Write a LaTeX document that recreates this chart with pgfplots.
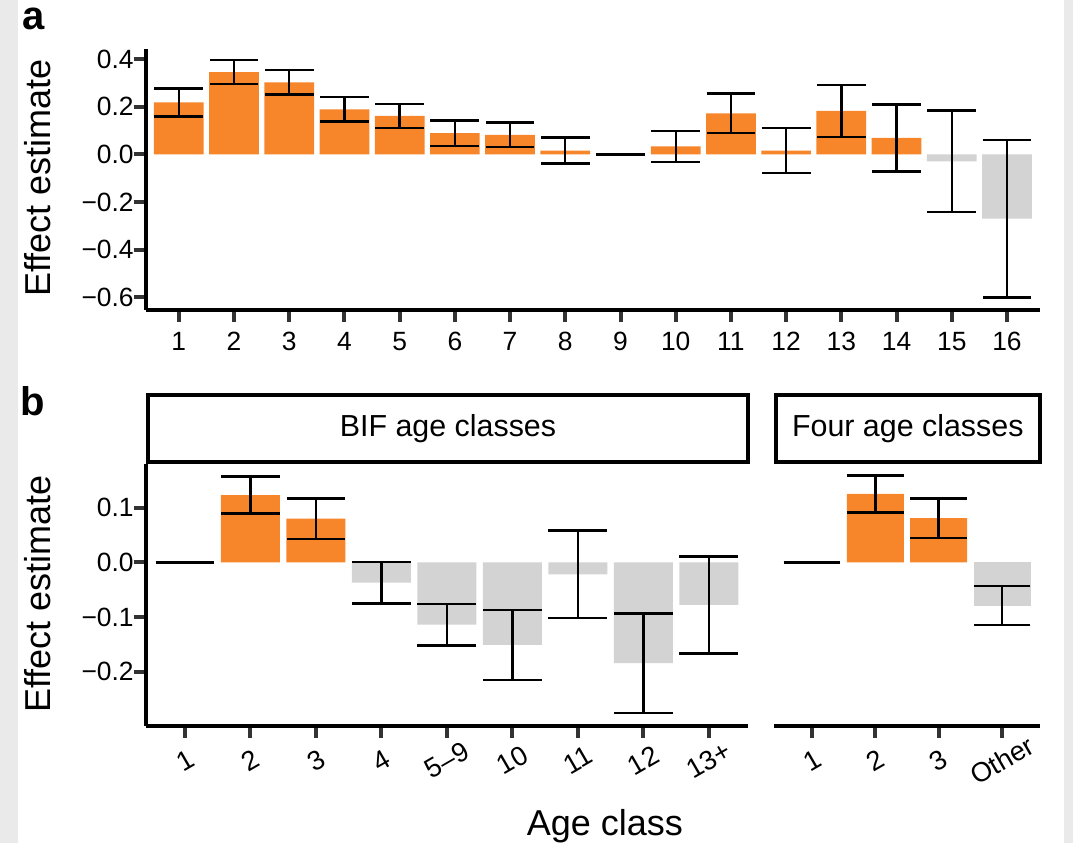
\documentclass[border=0pt]{standalone}
\usepackage{fontspec}
\setmainfont{Liberation Sans}
\usepackage{pgfplots}
\usepackage{pgfplotstable}
\pgfplotsset{compat=1.18}

\definecolor{barorange}{RGB}{247,134,43}
\definecolor{bargrey}{RGB}{211,211,211}
\definecolor{tickgrey}{RGB}{51,51,51}
\definecolor{edgegrey}{RGB}{234,234,234}

% panel a: x, estimate, half CI
\pgfplotstableread{
x y e
1 0.218 0.059
2 0.345 0.051
3 0.302 0.051
4 0.189 0.051
5 0.161 0.051
6 0.089 0.053
7 0.082 0.052
8 0.016 0.055
9 0 0
10 0.033 0.065
11 0.172 0.083
12 0.016 0.094
13 0.182 0.109
14 0.069 0.141
}\aPos
\pgfplotstableread{
x y e
15 -0.029 0.213
16 -0.270 0.331
}\aNeg
% panel b, BIF classes
\pgfplotstableread{
x y e
1 0 0
2 0.123 0.034
3 0.080 0.037
}\bPos
\pgfplotstableread{
x y e
4 -0.037 0.038
5 -0.114 0.038
6 -0.151 0.064
7 -0.022 0.080
8 -0.1845 0.091
9 -0.078 0.089
}\bNeg
% panel b, four classes
\pgfplotstableread{
x y e
1 0 0
2 0.125 0.034
3 0.081 0.036
}\cPos
\pgfplotstableread{
x y e
4 -0.079 0.036
}\cNeg

\pgfplotsset{
  effect/.style={
    scale only axis,
    axis lines*=left,
    axis line style={line width=2pt, black},
    ybar, bar shift=0pt, bar width=0.9,
    tick align=outside,
    major tick length=6pt,
    every tick/.style={line width=2pt, tickgrey},
    tick label style={font=\fontsize{13.2}{15}\selectfont},
    /pgf/number format/assume math mode=true,
    yticklabel style={xshift=3.5pt},
    clip=false,
  },
  ebar/.style={
    error bars/.cd, y dir=both, y explicit,
    error bar style={line width=1.2pt, draw=black},
    error mark options={rotate=90, line width=1.2pt, draw=black, mark size=#1},
  },
  slanted/.style={xticklabel style={anchor=center, yshift=-11.3pt, rotate=30,
    font=\fontsize{13.6}{15}\selectfont}},
}

\begin{document}
\begin{tikzpicture}
\fill[edgegrey] (0,0) rectangle (9pt,421.5pt);
\fill[edgegrey] (532pt,0) rectangle (536.5pt,421.5pt);

% panel a
\begin{axis}[effect,
  at={(72.85pt,266.5pt)}, anchor=south west,
  width=447.2pt, height=130.5pt,
  xmin=0.4, xmax=16.6, ymin=-0.653, ymax=0.442,
  xtick={1,...,16},
  xticklabel style={yshift=-1.5pt},
  ytick={-0.6,-0.4,-0.2,0,0.2,0.4},
  yticklabels={−0.6,−0.4,−0.2,0.0,0.2,0.4},
]
\addplot[fill=barorange, draw=none, ebar=12.2pt] table[x=x, y=y, y error=e] {\aPos};
\addplot[fill=bargrey, draw=none, ebar=12.2pt] table[x=x, y=y, y error=e] {\aNeg};
\end{axis}

% panel b, left facet
\begin{axis}[effect, slanted,
  at={(72.85pt,58.65pt)}, anchor=south west,
  width=301.2pt, height=130.7pt,
  xmin=0.4, xmax=9.6, ymin=-0.2988, ymax=0.1793,
  xtick={1,...,9},
  xticklabels={1,2,3,4,5–9,10,11,12,13+},
  ytick={-0.2,-0.1,0,0.1},
  yticklabels={−0.2,−0.1,0.0,0.1},
]
\addplot[fill=barorange, draw=none, ebar=14.7pt] table[x=x, y=y, y error=e] {\bPos};
\addplot[fill=bargrey, draw=none, ebar=14.7pt] table[x=x, y=y, y error=e] {\bNeg};
\end{axis}

% panel b, right facet
\begin{axis}[effect, slanted,
  at={(387pt,58.65pt)}, anchor=south west,
  width=133pt, height=130.7pt,
  xmin=0.4, xmax=4.6, ymin=-0.2988, ymax=0.1793,
  axis y line=none,
  xtick={1,...,4},
  xticklabels={1,2,3,Other},
]
\addplot[fill=barorange, draw=none, ebar=14.2pt] table[x=x, y=y, y error=e] {\cPos};
\addplot[fill=bargrey, draw=none, ebar=14.2pt] table[x=x, y=y, y error=e] {\cNeg};
\end{axis}

% facet strips
\draw[line width=2pt] (74pt,190.5pt) rectangle (374pt,224pt);
\node[font=\fontsize{15.2}{17}\selectfont] at (224pt,207.25pt) {BIF age classes};
\draw[line width=2pt] (387.85pt,190.5pt) rectangle (520pt,224pt);
\node[font=\fontsize{15.2}{17}\selectfont] at (453.9pt,207.25pt) {Four age classes};

% axis titles and panel letters
\node[rotate=90, font=\fontsize{18}{20}\selectfont] at (18.75pt,332.5pt) {Effect estimate};
\node[rotate=90, font=\fontsize{18}{20}\selectfont] at (18.75pt,124.5pt) {Effect estimate};
\node[anchor=base, font=\fontsize{18}{20}\selectfont] at (302.5pt,4pt) {Age class};
\node[anchor=base west, inner sep=0pt, font=\fontsize{20}{22}\bfseries] at (11pt,406.5pt) {a};
\node[anchor=base west, inner sep=0pt, font=\fontsize{20}{22}\bfseries] at (10pt,214pt) {b};

\pgfresetboundingbox
\path (0,0) rectangle (536.5pt,421.5pt);
\end{tikzpicture}
\end{document}
